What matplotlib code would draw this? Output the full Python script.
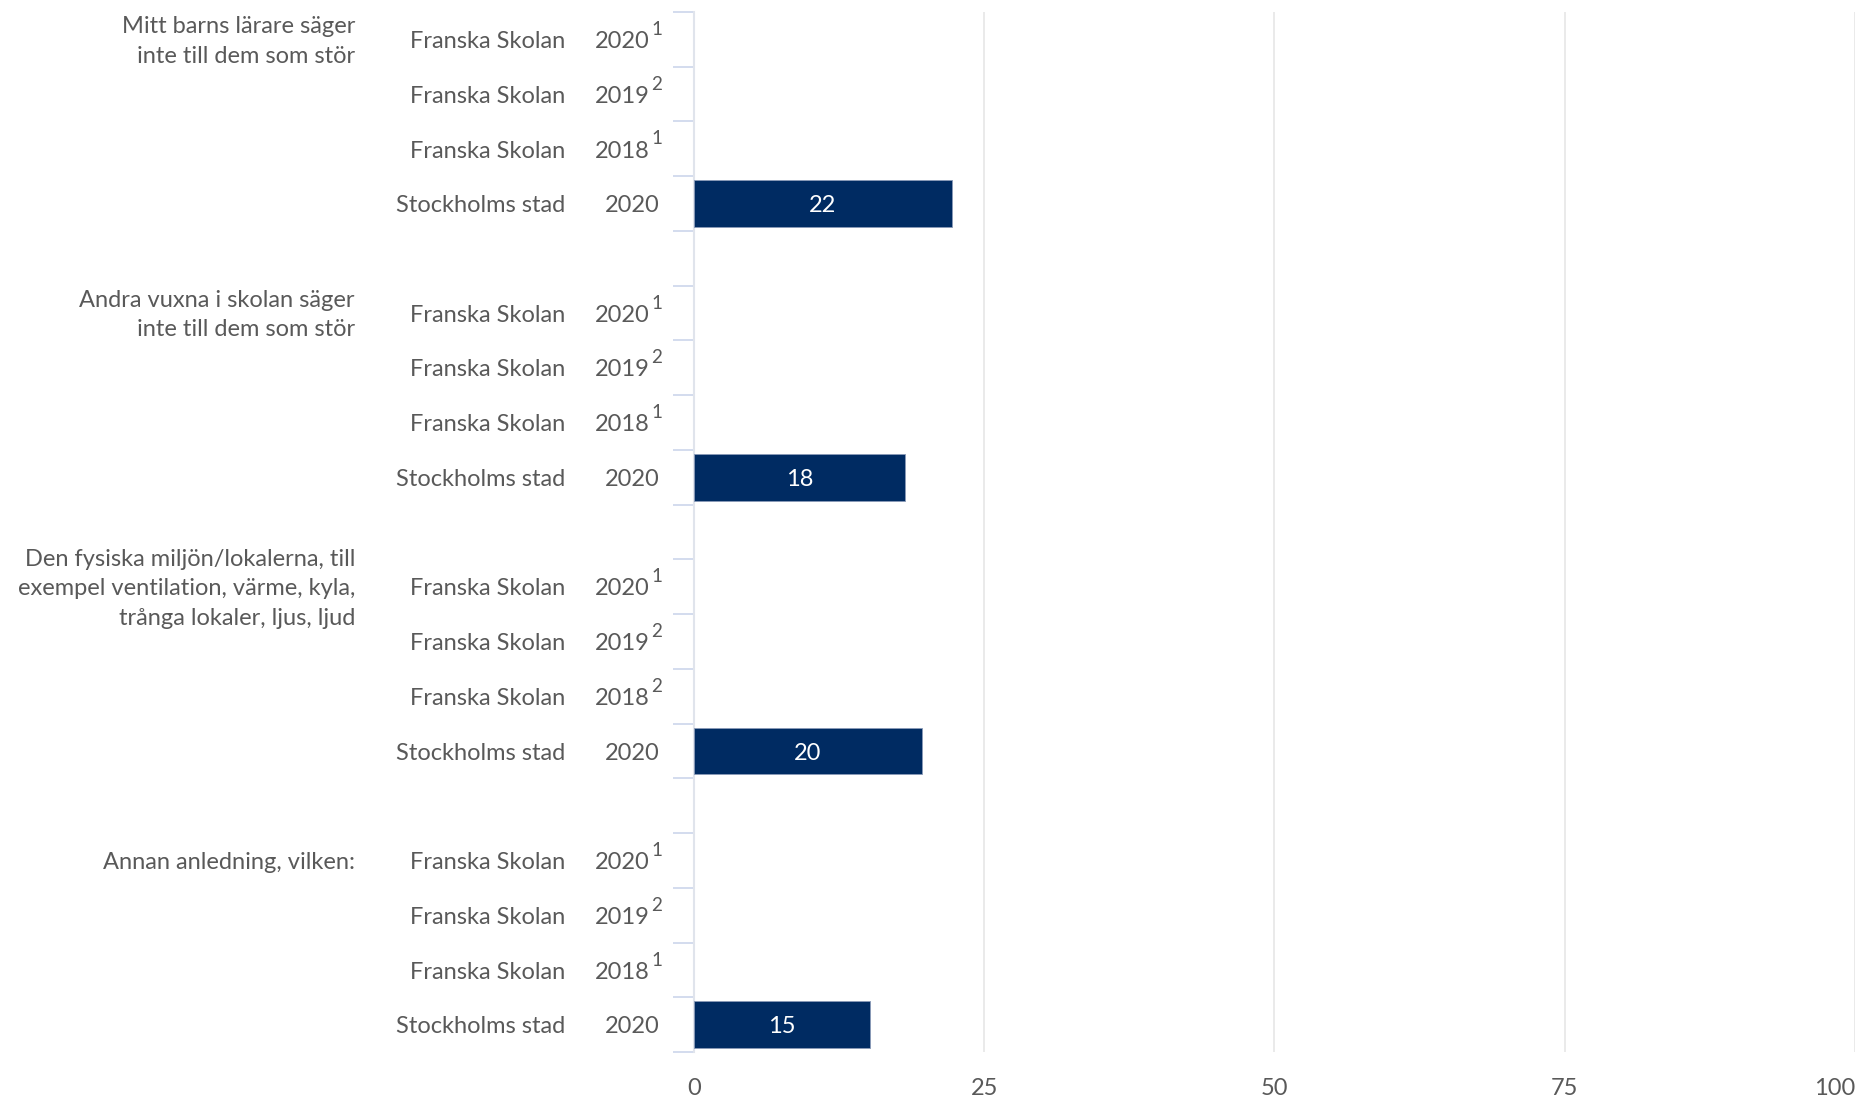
import matplotlib.pyplot as plt
import matplotlib.transforms as mtransforms

categories = [
    "Mitt barns lärare säger\ninte till dem som stör",
    "Andra vuxna i skolan säger\ninte till dem som stör",
    "Den fysiska miljön/lokalerna, till\nexempel ventilation, värme, kyla,\ntrånga lokaler, ljus, ljud",
    "Annan anledning, vilken:",
]
series_names = ["Franska Skolan", "Franska Skolan", "Franska Skolan", "Stockholms stad"]
years = ["2020", "2019", "2018", "2020"]
footnotes = [
    ["1", "2", "1", ""],
    ["1", "2", "1", ""],
    ["1", "2", "2", ""],
    ["1", "2", "1", ""],
]
# Franska Skolan rows have no data, only Stockholms stad has bars
stockholm_values = [22.2, 18.2, 19.6, 15.2]
x_ticks = [0, 25, 50, 75, 100]

plt.rcParams["font.family"] = ["Lato", "DejaVu Sans"]
text_color = "#595959"
fs = 17

fig = plt.figure(figsize=(18.58, 10.98), dpi=100)
ax = fig.add_axes([0.3735, 0.0419, 0.6249, 0.9472])

n_series = len(series_names)
row_step = n_series + 1
n_rows = len(categories) * row_step - 1

trans = mtransforms.blended_transform_factory(fig.transFigure, ax.transData)
dy = 0.04  # labels sit slightly below row centre in the original

for ci, cat in enumerate(categories):
    first_row = ci * row_step
    ax.text(0.191, first_row + dy, cat, transform=trans, ha="right", va="center",
            fontsize=fs, color=text_color, linespacing=1.5)
    for si, name in enumerate(series_names):
        row = first_row + si + dy
        ax.text(0.304, row, name, transform=trans, ha="right", va="center",
                fontsize=fs, color=text_color)
        note = footnotes[ci][si]
        if note:
            ax.text(0.3495, row, years[si], transform=trans, ha="right",
                    va="center", fontsize=fs, color=text_color)
            ax.text(0.3505, row - 0.22, note, transform=trans, ha="left",
                    va="center", fontsize=fs * 0.8, color=text_color)
        else:
            ax.text(0.355, row, years[si], transform=trans, ha="right",
                    va="center", fontsize=fs, color=text_color)

    bar_row = first_row + n_series - 1
    val = stockholm_values[ci]
    ax.barh(bar_row, val, height=0.85, color="#002b62",
            edgecolor="#8a9bb8", linewidth=0.6, zorder=3)
    ax.text(val / 2, bar_row + dy, f"{val:.0f}", ha="center", va="center",
            fontsize=fs, color="white", zorder=4)

ax.set_ylim(n_rows - 0.5, -0.5)
ax.set_xlim(0, 100)

ax.set_yticks([r - 0.5 for r in range(n_rows + 1)])
ax.set_yticklabels([])
ax.tick_params(axis="y", length=15, width=1.2, color="#ccd6eb")

ax.set_xticks(x_ticks)
ax.set_xticklabels([str(t) for t in x_ticks])
ax.tick_params(axis="x", length=0, pad=19, labelsize=fs, labelcolor=text_color)
ax.get_xticklabels()[-1].set_horizontalalignment("right")

ax.grid(True, axis="x", color="#e6e6e6", linewidth=1.2)
ax.set_axisbelow(True)
for side in ["top", "right", "bottom"]:
    ax.spines[side].set_visible(False)
ax.spines["left"].set_color("#e0e4ec")
ax.spines["left"].set_linewidth(1.5)

fig.savefig("out.png", dpi=100, facecolor="white")
